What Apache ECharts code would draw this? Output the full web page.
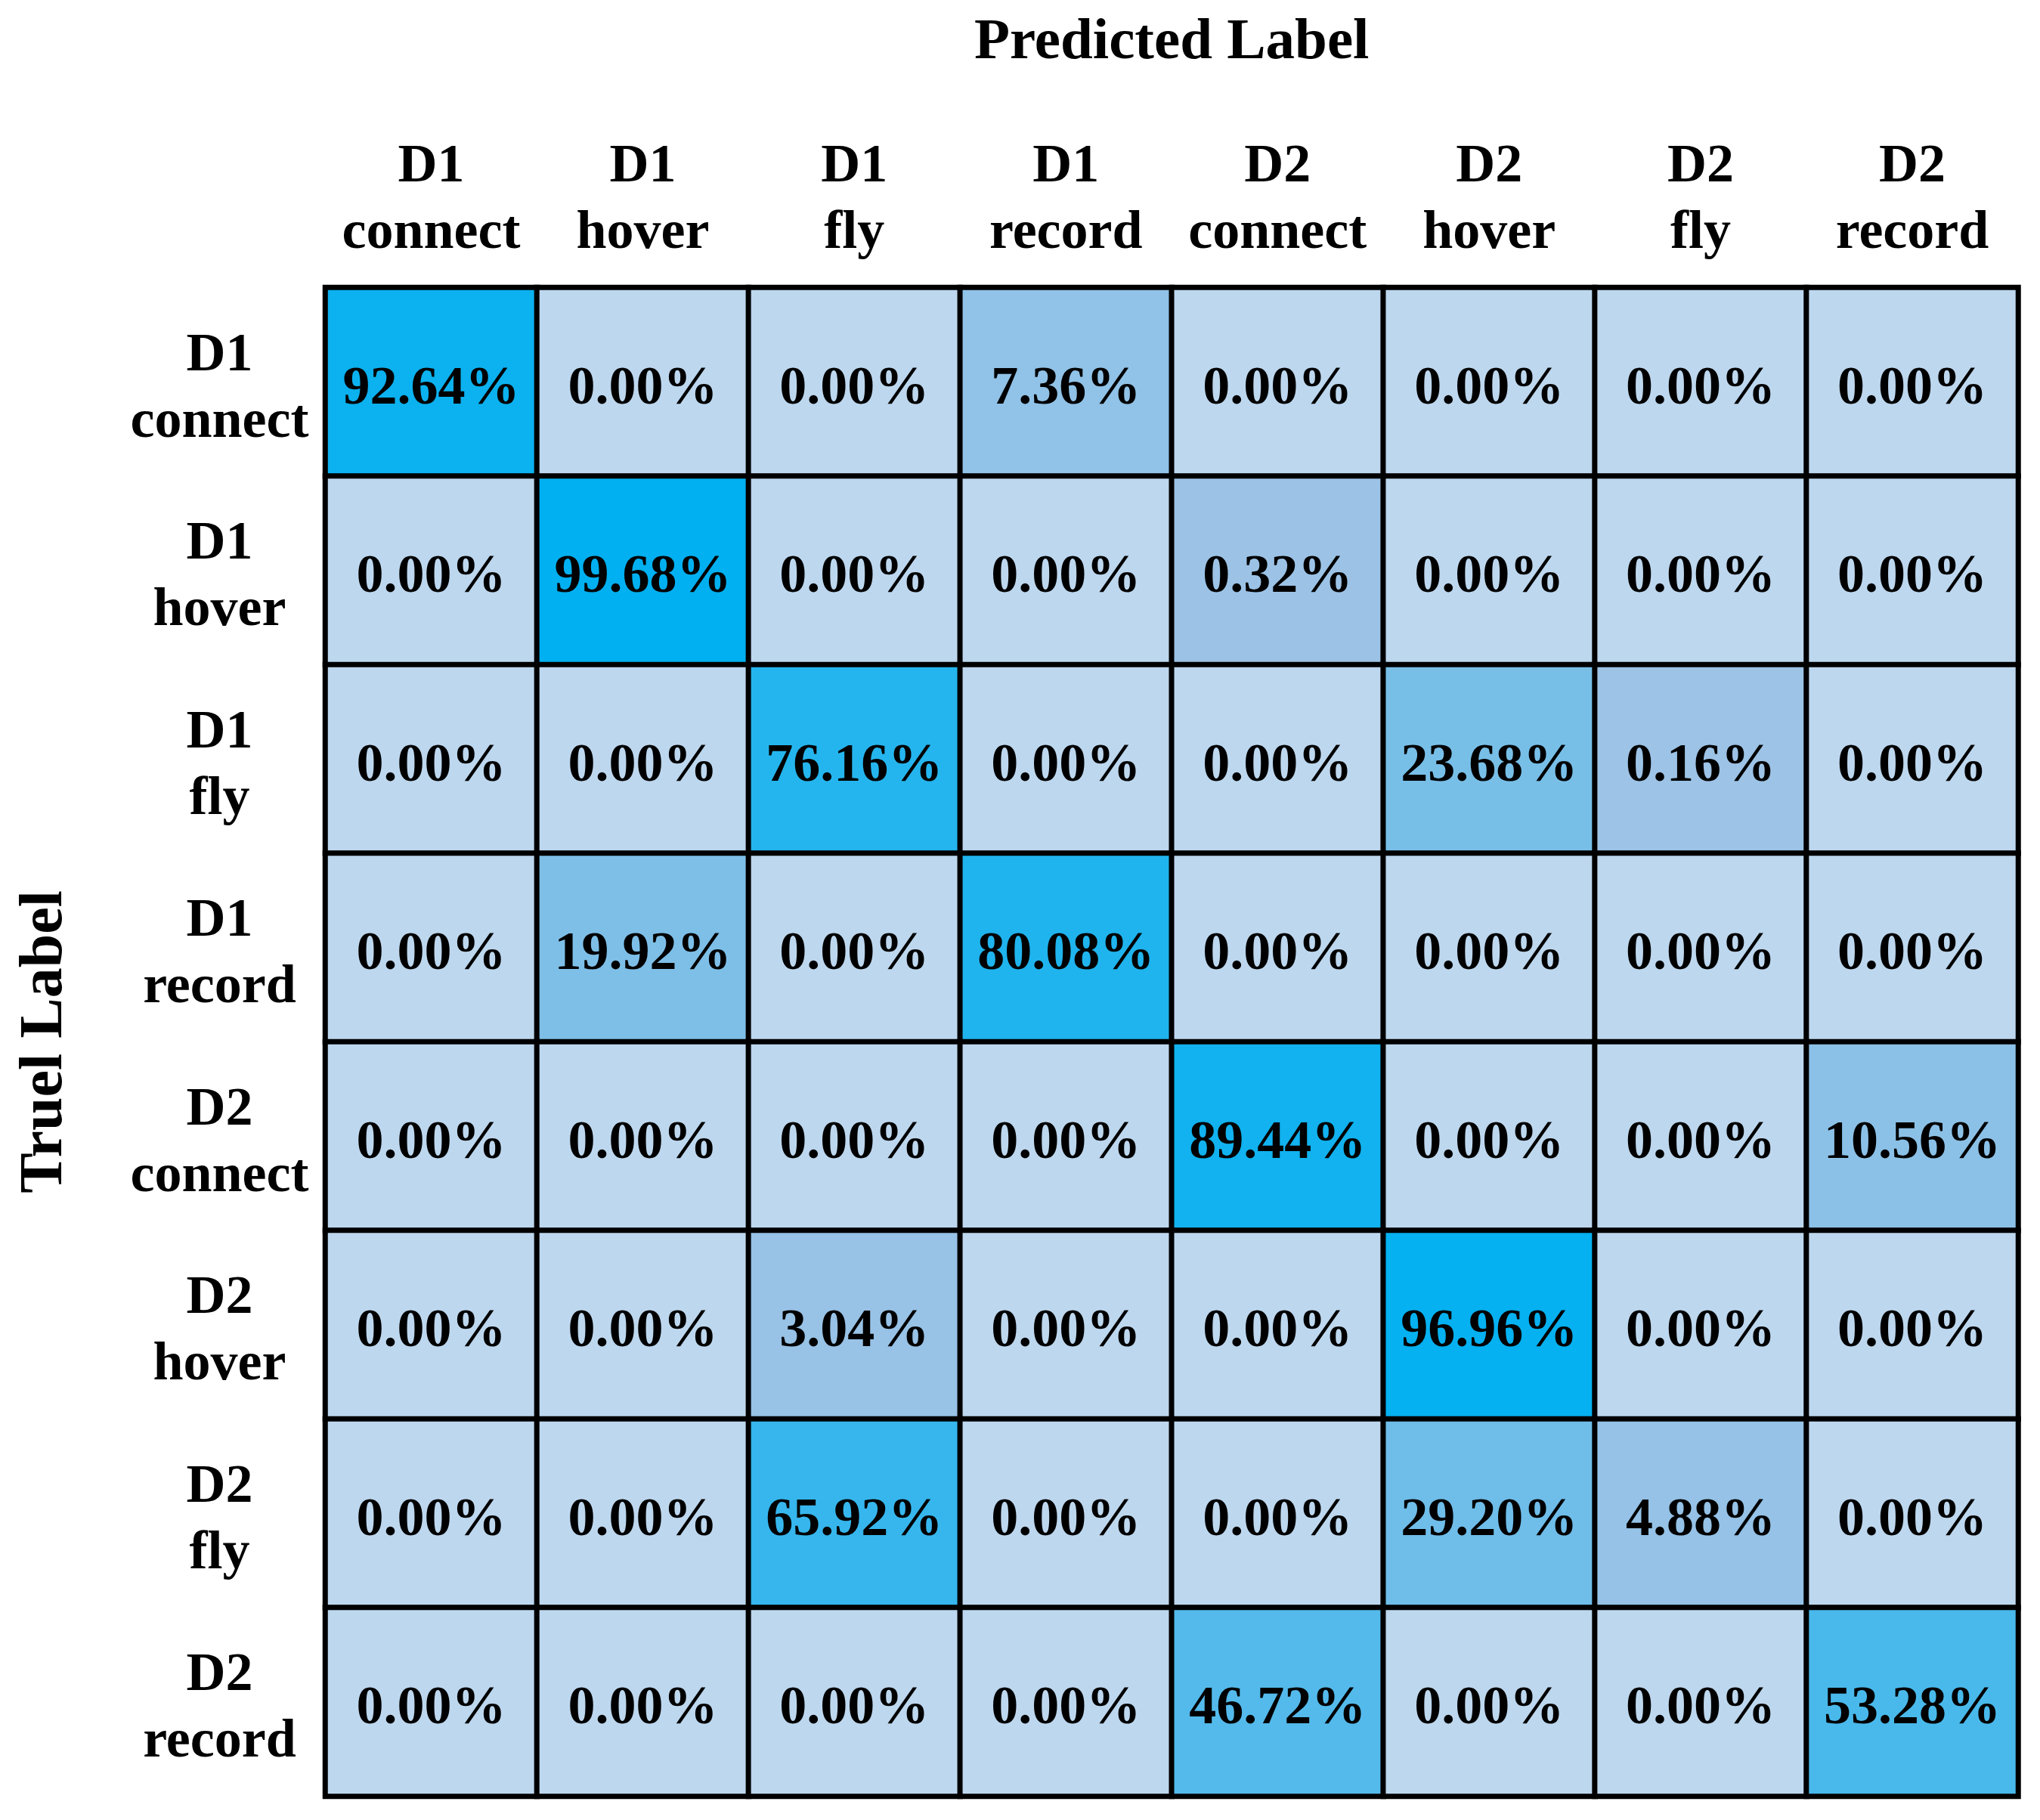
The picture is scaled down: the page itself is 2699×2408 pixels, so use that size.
<!DOCTYPE html>
<html>
<head>
<meta charset="utf-8">
<script src="https://cdn.jsdelivr.net/npm/echarts@6/dist/echarts.min.js"></script>
<style>
html,body{margin:0;padding:0;background:#fff;}
#chart{width:2699px;height:2408px;}
</style>
</head>
<body>
<div id="chart"></div>
<script>
const predictedLabels = ['D1\nconnect','D1\nhover','D1\nfly','D1\nrecord','D2\nconnect','D2\nhover','D2\nfly','D2\nrecord'];
const trueLabels = ['D1\nconnect','D1\nhover','D1\nfly','D1\nrecord','D2\nconnect','D2\nhover','D2\nfly','D2\nrecord'];
// rows: true label, columns: predicted label (percent)
const rowD1connect = [92.64, 0.00, 0.00, 7.36, 0.00, 0.00, 0.00, 0.00];
const rowD1hover   = [0.00, 99.68, 0.00, 0.00, 0.32, 0.00, 0.00, 0.00];
const rowD1fly     = [0.00, 0.00, 76.16, 0.00, 0.00, 23.68, 0.16, 0.00];
const rowD1record  = [0.00, 19.92, 0.00, 80.08, 0.00, 0.00, 0.00, 0.00];
const rowD2connect = [0.00, 0.00, 0.00, 0.00, 89.44, 0.00, 0.00, 10.56];
const rowD2hover   = [0.00, 0.00, 3.04, 0.00, 0.00, 96.96, 0.00, 0.00];
const rowD2fly     = [0.00, 0.00, 65.92, 0.00, 0.00, 29.20, 4.88, 0.00];
const rowD2record  = [0.00, 0.00, 0.00, 0.00, 46.72, 0.00, 0.00, 53.28];
const rows = [rowD1connect, rowD1hover, rowD1fly, rowD1record, rowD2connect, rowD2hover, rowD2fly, rowD2record];

const data = [];
rows.forEach((row, r) => row.forEach((v, c) => data.push([c, r, v])));

const FONT = '"Liberation Serif", "Times New Roman", serif';
const chart = echarts.init(document.getElementById('chart'), null, {renderer: 'canvas'});
chart.setOption({
  backgroundColor: '#ffffff',
  animation: false,
  grid: {left: 430.5, top: 380.5, width: 2239.5, height: 1996, containLabel: false, outerBoundsMode: 'none'},
  xAxis: {
    type: 'category', data: predictedLabels, position: 'top',
    name: 'Predicted Label', nameLocation: 'middle', nameGap: 285,
    nameTextStyle: {fontFamily: FONT, fontWeight: 'bold', fontSize: 77, color: '#000'},
    axisLine: {show: false}, axisTick: {show: false}, splitLine: {show: false},
    axisLabel: {fontFamily: FONT, fontWeight: 'bold', fontSize: 72, color: '#000',
      lineHeight: 88, margin: 115, verticalAlign: 'middle', align: 'center', interval: 0}
  },
  yAxis: {
    type: 'category', data: trueLabels, inverse: true,
    name: 'Truel Label', nameLocation: 'middle', nameGap: 330, nameRotate: 90,
    nameTextStyle: {fontFamily: FONT, fontWeight: 'bold', fontSize: 80, color: '#000'},
    axisLine: {show: false}, axisTick: {show: false}, splitLine: {show: false},
    axisLabel: {fontFamily: FONT, fontWeight: 'bold', fontSize: 72, color: '#000',
      lineHeight: 88, margin: 140, align: 'center', verticalAlign: 'middle', interval: 0,
      formatter: v => '{s| }\n' + v.split('\n').map(t => '{t|' + t + '}').join('\n'),
      rich: {
        s: {lineHeight: 20, fontSize: 10},
        t: {fontFamily: FONT, fontWeight: 'bold', fontSize: 72, color: '#000', lineHeight: 88}
      }}
  },
  visualMap: {
    show: false, type: 'continuous', min: 0, max: 100, range: [0.01, 100],
    dimension: 2,
    inRange: {color: ['#9DC3E6', '#00B0F0']},
    outOfRange: {color: '#BDD7EE'}
  },
  series: [{
    type: 'heatmap',
    data: data,
    itemStyle: {borderColor: '#000', borderWidth: 7},
    label: {show: true, fontFamily: FONT, fontWeight: 'bold', fontSize: 72, color: '#000',
      offset: [0, 10],
      formatter: p => p.value[2].toFixed(2) + '%'},
    emphasis: {disabled: true}
  }]
});
</script>
</body>
</html>
